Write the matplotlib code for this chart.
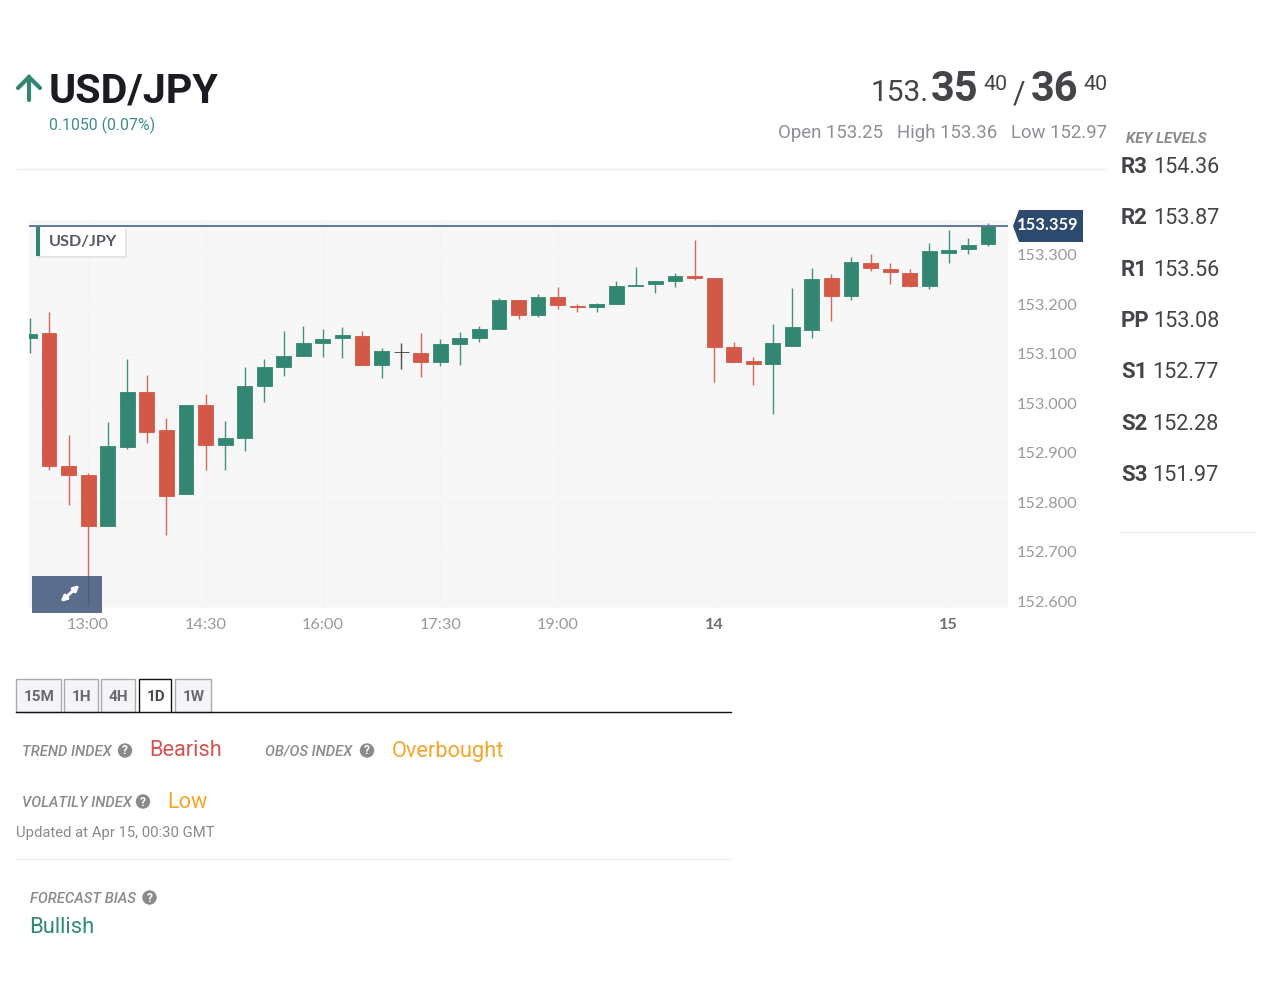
import matplotlib
matplotlib.use("Agg")
import matplotlib.pyplot as plt
from matplotlib.patches import Rectangle, Polygon, Circle

opens = [153.132,153.142,152.873,152.855,152.752,152.912,153.023,152.946,152.817,152.997,
         152.916,152.930,153.035,153.073,153.096,153.122,153.132,153.136,153.077,153.104,
         153.102,153.084,153.120,153.132,153.150,153.209,153.179,153.215,153.197,153.195,
         153.201,153.237,153.241,153.247,153.258,153.253,153.114,153.086,153.079,153.116,
         153.148,153.253,153.217,153.284,153.272,153.264,153.237,153.304,153.312,153.322]
closes = [153.140,152.873,152.855,152.752,152.914,153.023,152.942,152.812,152.997,152.916,
          152.930,153.035,153.073,153.096,153.122,153.130,153.138,153.077,153.106,153.104,
          153.084,153.120,153.132,153.150,153.209,153.179,153.215,153.199,153.195,153.201,
          153.237,153.239,153.247,153.258,153.253,153.114,153.084,153.079,153.122,153.154,
          153.251,153.217,153.286,153.274,153.266,153.237,153.308,153.310,153.320,153.359]
highs = [153.173,153.185,152.936,152.858,152.962,153.090,153.057,152.970,152.997,153.019,
         152.964,153.073,153.090,153.146,153.156,153.150,153.154,153.146,153.112,153.122,
         153.142,153.130,153.144,153.156,153.213,153.209,153.221,153.235,153.201,153.203,
         153.247,153.276,153.247,153.264,153.330,153.253,153.124,153.094,153.160,153.233,
         153.274,153.262,153.296,153.302,153.284,153.272,153.324,153.351,153.334,153.365]
lows = [153.102,152.865,152.794,152.590,152.752,152.908,152.920,152.734,152.817,152.865,
        152.865,152.903,153.003,153.055,153.096,153.094,153.092,153.077,153.051,153.069,
        153.053,153.075,153.077,153.124,153.150,153.171,153.175,153.191,153.185,153.185,
        153.201,153.237,153.223,153.235,153.249,153.043,153.084,153.037,152.978,153.116,
        153.132,153.166,153.209,153.268,153.241,153.235,153.231,153.284,153.302,153.318]
y_ticks = [153.3,153.2,153.1,153.0,152.9,152.8,152.7,152.6]
x_tick_pos = [3,9,15,21,27,35,47]
x_tick_labels = ["13:00","14:30","16:00","17:30","19:00","14","15"]
last_price = 153.359
key_levels = [("R3","154.36"),("R2","153.87"),("R1","153.56"),("PP","153.08"),("S1","152.77"),("S2","152.28"),("S3","151.97")]
tabs = ["15M","1H","4H","1D","1W"]

W, H = 1263, 982
GREEN, RED, DOJI = "#338671", "#d45847", "#3a3a3a"
fig = plt.figure(figsize=(W/100, H/100), dpi=100, facecolor="white")
plt.rcParams['font.family'] = ['Roboto', 'DejaVu Sans']

# chart
L, R, T, B = 29, 1008, 220, 608
ax = fig.add_axes([L/W, 1-B/H, (R-L)/W, (B-T)/H], facecolor="#f7f7f7")
step = 19.56
ax.set_xlim((L-29.5)/step, (R-29.5)/step)
ax.set_ylim(153.3-(B-255)/494.3, 153.3+(255-T)/494.3)
for s in ax.spines.values():
    s.set_visible(False)
ax.set_axisbelow(True)
ax.grid(True, color="#f4f4f4", lw=0.8)
for i, (o, h, l, c) in enumerate(zip(opens, highs, lows, closes)):
    col = GREEN if c > o else (RED if c < o else DOJI)
    ax.vlines(i, l, h, color=col, lw=1.0, alpha=0.9, zorder=2)
    ax.bar(i, abs(c-o), bottom=min(o, c), width=0.76, color=col, edgecolor=col, linewidth=0.6, zorder=3)
ax.axhline(last_price, color="#62779a", lw=1.4, zorder=4)
ax.yaxis.tick_right()
ax.set_yticks(y_ticks, [f"{v:.3f}" for v in y_ticks])
ax.set_xticks(x_tick_pos, x_tick_labels)
ax.tick_params(axis='y', length=0, pad=6.6, labelsize=11.7, labelcolor="#9a9a9a")
ax.tick_params(axis='x', length=0, pad=7.4, labelsize=11.7, labelcolor="#9a9a9a")
for t in ax.get_xticklabels() + ax.get_yticklabels():
    t.set_fontfamily(['Lato', 'DejaVu Sans'])
for t in ax.get_xticklabels()[-2:]:
    t.set_fontweight('bold')
    t.set_color("#707070")

# overlay in page pixels
ov = fig.add_axes([0, 0, 1, 1], facecolor="none", zorder=5)
ov.set_xlim(0, W)
ov.set_ylim(H, 0)
ov.axis("off")

def txt(x, y, s, size, color="#333333", weight="normal", style="normal", ha="left", font="Roboto", **kw):
    return ov.text(x, y, s, fontsize=size, color=color, fontweight=weight, fontstyle=style, ha=ha,
                   va="baseline", family=[font, "DejaVu Sans"], **kw)

def qmark(x, y):
    ov.add_patch(Circle((x, y), 7.2, color="#8a8a8a", lw=0))
    ov.text(x, y+0.5, "?", fontsize=8.5, color="white", fontweight="bold", ha="center", va="center", family=["Roboto"])

def hline(y, x0, x1, color="#ececec", lw=0.9):
    ov.plot([x0, x1], [y, y], color=color, lw=lw, solid_capstyle="butt")

# header
ov.plot([29, 29], [100, 77], color="#338671", lw=3.0, solid_capstyle="round")
ov.plot([18, 29, 40], [88, 77, 88], color="#338671", lw=3.0, solid_capstyle="round", solid_joinstyle="miter")
txt(48.5, 102, "USD/JPY", 29.7, "#1b1b22", "bold")
txt(49, 130, "0.1050 (0.07%)", 11.45, "#3f8f8c")
txt(871, 101, "153.", 21.5, "#444444")
txt(931, 101, "35", 30, "#444449", "bold")
txt(983.5, 90, "40", 15.4, "#444444")
txt(1013, 102, "/", 22, "#444444")
txt(1031, 101, "36", 30, "#444449", "bold")
txt(1083.5, 90, "40", 15.4, "#444444")
hdr = "#8c8f94"
txt(778, 138, "Open 153.25", 13.45, hdr)
txt(897, 138, "High 153.36", 13.45, hdr)
txt(1011, 138, "Low 152.97", 13.45, hdr)
hline(169, 16, 1107)

# key levels
txt(1126.5, 143, "KEY LEVELS", 10.8, "#8a8a8a", "bold", "italic")
for i, (a, b) in enumerate(key_levels):
    y = 173 + i*51.3
    txt(1121, y, a, 16.0, "#444449", "bold")
    txt(1153.5 if a[0] != "S" else 1152.5, y, b, 15.6, "#444444")
hline(532, 1120, 1256)

# chart overlays
ov.add_patch(Rectangle((37, 229), 90, 29, color="#000000", alpha=0.07, lw=0))
ov.add_patch(Rectangle((36, 227), 89, 29, color="white", lw=0))
ov.add_patch(Rectangle((36, 227), 4, 29, color=GREEN, lw=0))
txt(48.5, 245.5, "USD/JPY", 11.7, "#555a60", "bold", font="Lato")
ov.add_patch(Polygon([(1013, 226), (1019, 210), (1083, 210), (1083, 242), (1019, 242)], color="#2d4a6e", lw=0))
txt(1048, 229.5, f"{last_price:.3f}", 11.9, "white", "bold", ha="center", font="Lato")
ov.add_patch(Rectangle((32, 576), 70, 37, color="#3e5579", alpha=0.85, lw=0))
ov.annotate("", xy=(60.5, 602), xytext=(79.5, 585),
            arrowprops=dict(arrowstyle="<|-|>", color="white", lw=2.2, mutation_scale=8, shrinkA=0, shrinkB=0))

# tabs
tab_x = [(16, 62), (64, 99), (101, 136), (139, 172), (175, 212)]
for name, (a, b) in zip(tabs, tab_x):
    active = name == "1D"
    ov.add_patch(Rectangle((a, 679), b-a-1, 33, facecolor="white" if active else "#f5f5f9",
                           edgecolor="#111111" if active else "#aaaaaa", lw=1.0))
    txt((a+b)/2, 701, name, 11, "#4a4a50" if active else "#6b6b6b", "bold", ha="center")
ov.plot([16, 139], [712, 712], color="#111111", lw=1)
ov.plot([172, 731], [712, 712], color="#111111", lw=1)

# indices
lab = "#8a8a8a"
txt(22, 756, "TREND INDEX", 10.65, lab, "medium", "italic")
qmark(125, 750.5)
txt(149.5, 756.5, "Bearish", 15.7, "#d6534f")
txt(265, 756, "OB/OS INDEX", 10.65, lab, "medium", "italic")
qmark(367, 750.5)
txt(391.5, 756.5, "Overbought", 15.7, "#f4a62a")
txt(22, 807, "VOLATILY INDEX", 10.65, lab, "medium", "italic")
qmark(143, 801.5)
txt(167, 808, "Low", 15.7, "#f4a62a")
txt(16, 837, "Updated at Apr 15, 00:30 GMT", 10.75, "#8a8a8a")
hline(859, 16, 731)
txt(29.5, 903, "FORECAST BIAS", 10.65, lab, "medium", "italic")
qmark(149.5, 897.5)
txt(29, 933, "Bullish", 15.8, "#2f8a78")

fig.savefig("out.png", dpi=100)
